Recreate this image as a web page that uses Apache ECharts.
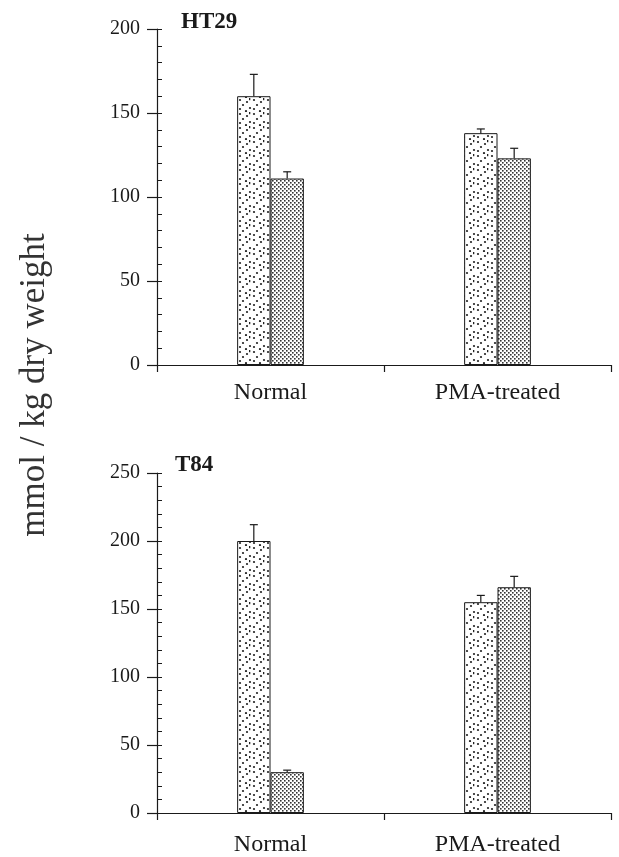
<!DOCTYPE html>
<html>
<head>
<meta charset="utf-8">
<script src="https://cdn.jsdelivr.net/npm/echarts@6/dist/echarts.min.js"></script>
<style>
  html, body { margin: 0; padding: 0; background: #fff; }
  #main { width: 619px; height: 857px; }
</style>
</head>
<body>
<div id="main"></div>
<script>
var categories = ['Normal', 'PMA-treated'];

// HT29 panel
var ht29First = [160, 138];
var ht29FirstErr = [13, 2.5];
var ht29Second = [111, 123];
var ht29SecondErr = [4, 6];

// T84 panel
var t84First = [200, 155];
var t84FirstErr = [12, 5];
var t84Second = [30, 166];
var t84SecondErr = [1.5, 8];

var ink = '#1a1a1a';
var serif = 'Liberation Serif';

// stipple fills
function sparseDots() {
    var c = document.createElement('canvas');
    c.width = 14; c.height = 14;
    var ctx = c.getContext('2d');
    ctx.fillStyle = '#fff';
    ctx.fillRect(0, 0, 14, 14);
    ctx.fillStyle = '#222';
    var pts = [[2, 2], [9, 4], [5, 7], [12, 10], [2, 11], [8, 13]];
    pts.forEach(function (p) {
        ctx.beginPath();
        ctx.arc(p[0], p[1], 1.1, 0, Math.PI * 2);
        ctx.fill();
    });
    ctx.fillRect(11, 0, 1.3, 2.2);
    return c;
}
function denseDots() {
    var c = document.createElement('canvas');
    c.width = 4; c.height = 4;
    var ctx = c.getContext('2d');
    ctx.fillStyle = '#fff';
    ctx.fillRect(0, 0, 4, 4);
    ctx.fillStyle = '#333';
    ctx.fillRect(0, 0, 1.6, 1.6);
    ctx.fillRect(2, 2, 1.6, 1.6);
    return c;
}
var fillA = { image: sparseDots(), repeat: 'repeat' };
var fillB = { image: denseDots(), repeat: 'repeat' };

var barPct = 0.147;

function errorSeries(xi, yi, vals, errs, side) {
    return {
        type: 'custom',
        xAxisIndex: xi,
        yAxisIndex: yi,
        z: 5,
        data: vals.map(function (v, i) { return [i, v, v + errs[i]]; }),
        renderItem: function (params, api) {
            var band = api.size([1, 0])[0];
            var off = side * band * barPct / 2;
            var lo = api.coord([api.value(0), api.value(1)]);
            var hi = api.coord([api.value(0), api.value(2)]);
            var x = lo[0] + off;
            var style = { stroke: ink, lineWidth: 1.2 };
            return {
                type: 'group',
                children: [
                    { type: 'line', shape: { x1: x, y1: lo[1], x2: x, y2: hi[1] }, style: style },
                    { type: 'line', shape: { x1: x - 4, y1: hi[1], x2: x + 4, y2: hi[1] }, style: style }
                ]
            };
        }
    };
}

function barSeries(xi, yi, vals, fill) {
    return {
        type: 'bar',
        xAxisIndex: xi,
        yAxisIndex: yi,
        data: vals,
        barWidth: (barPct * 100) + '%',
        barGap: '0%',
        itemStyle: { color: fill, borderColor: ink, borderWidth: 1 },
        silent: true
    };
}

function xAxisFor(gi, margin) {
    return {
        type: 'category',
        gridIndex: gi,
        data: categories,
        axisLine: { lineStyle: { color: ink, width: 1.2 } },
        axisTick: { show: true, length: 7, alignWithLabel: false, lineStyle: { color: ink, width: 1.2 } },
        axisLabel: { fontFamily: serif, fontSize: 24, color: ink, margin: margin },
        splitLine: { show: false }
    };
}

function yAxisMajor(gi, max) {
    return {
        type: 'value',
        gridIndex: gi,
        min: 0,
        max: max,
        interval: 50,
        axisLine: { show: true, lineStyle: { color: ink, width: 1.2 } },
        axisTick: { show: true, length: 10, lineStyle: { color: ink, width: 1.2 } },
        axisLabel: { fontFamily: serif, fontSize: 20, color: ink, margin: 17 },
        splitLine: { show: false }
    };
}

function yAxisMinor(gi, max) {
    return {
        type: 'value',
        gridIndex: gi,
        min: 0,
        max: max,
        interval: 10,
        position: 'left',
        axisLine: { show: false },
        axisTick: { show: true, inside: true, length: 5, lineStyle: { color: ink, width: 1 } },
        axisLabel: { show: false },
        splitLine: { show: false }
    };
}

var chart = echarts.init(document.getElementById('main'));
chart.setOption({
    backgroundColor: '#fff',
    animation: false,
    title: [
        { text: 'HT29', left: 181, top: 11, padding: 0, textStyle: { fontFamily: serif, fontSize: 23, fontWeight: 'bold', color: ink } },
        { text: 'T84', left: 175, top: 454, padding: 0, textStyle: { fontFamily: serif, fontSize: 23, fontWeight: 'bold', color: ink } }
    ],
    graphic: [{
        type: 'text',
        x: 35,
        y: 385,
        rotation: Math.PI / 2,
        style: {
            text: 'mmol / kg dry weight',
            fontFamily: serif,
            fontSize: 35,
            fill: '#333',
            align: 'center',
            verticalAlign: 'middle'
        }
    }],
    grid: [
        { left: 157, right: 8, top: 29, bottom: 492 },
        { left: 157, right: 8, top: 473, bottom: 44 }
    ],
    xAxis: [xAxisFor(0, 16), xAxisFor(1, 20)],
    yAxis: [yAxisMajor(0, 200), yAxisMinor(0, 200), yAxisMajor(1, 250), yAxisMinor(1, 250)],
    series: [
        barSeries(0, 0, ht29First, fillA),
        barSeries(0, 0, ht29Second, fillB),
        errorSeries(0, 0, ht29First, ht29FirstErr, -1),
        errorSeries(0, 0, ht29Second, ht29SecondErr, 1),
        barSeries(1, 2, t84First, fillA),
        barSeries(1, 2, t84Second, fillB),
        errorSeries(1, 2, t84First, t84FirstErr, -1),
        errorSeries(1, 2, t84Second, t84SecondErr, 1)
    ]
});
</script>
</body>
</html>
